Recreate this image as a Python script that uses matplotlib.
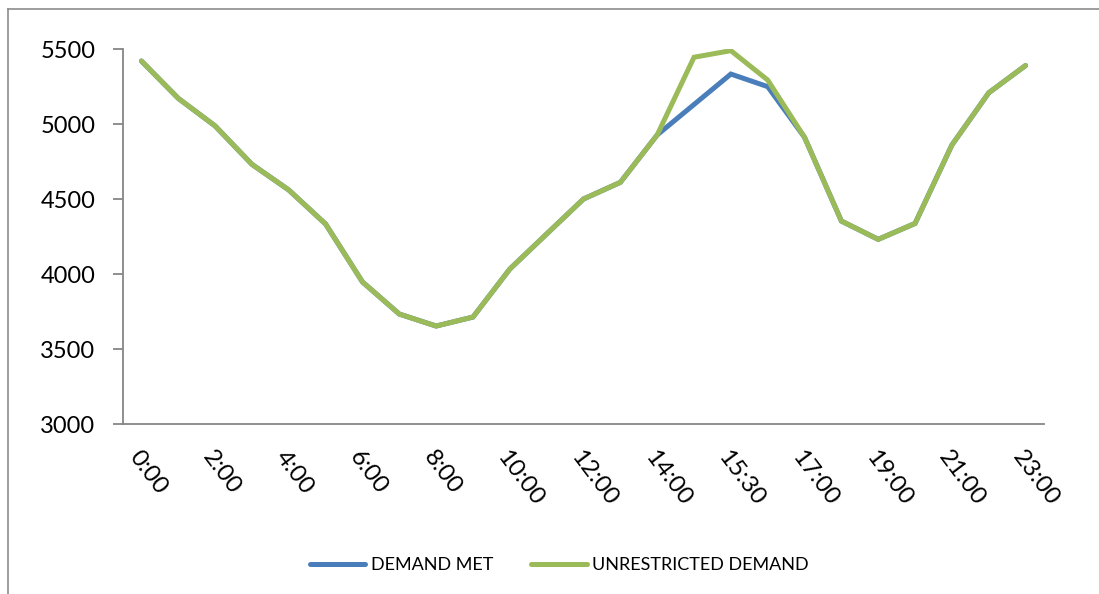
import matplotlib
matplotlib.use("Agg")
import matplotlib.pyplot as plt
from matplotlib.lines import Line2D
from matplotlib.transforms import ScaledTranslation

# Hourly load profile (MW), with a half-hour reading at the afternoon peak
times = ["0:00", "1:00", "2:00", "3:00", "4:00", "5:00", "6:00", "7:00", "8:00",
         "9:00", "10:00", "11:00", "12:00", "13:00", "14:00", "15:00", "15:30",
         "16:00", "17:00", "18:00", "19:00", "20:00", "21:00", "22:00", "23:00"]
demand_met = [5422, 5173, 4989, 4733, 4562, 4335, 3949, 3735, 3655,
              3715, 4035, 4269, 4502, 4613, 4929, 5132, 5335,
              5251, 4913, 4355, 4233, 4339, 4862, 5210, 5392]
unrestricted = [5422, 5173, 4989, 4733, 4562, 4335, 3949, 3735, 3655,
                3715, 4035, 4269, 4502, 4613, 4929, 5447, 5491,
                5295, 4913, 4355, 4233, 4339, 4862, 5210, 5392]
y_ticks = [3000, 3500, 4000, 4500, 5000, 5500]

BLUE = "#4A7EBB"
GREEN = "#9BBB59"
GRID = "#868686"
FONT = ["Lato", "DejaVu Sans"]

fig = plt.figure(figsize=(10.99, 5.94), dpi=100)
ax = fig.add_axes([123 / 1099, 1 - 424.3 / 594, (1044 - 123) / 1099, (424.3 - 49.3) / 594])

x = list(range(len(times)))
ax.plot(x, demand_met, color=BLUE, lw=3.6, solid_joinstyle="miter", solid_capstyle="round",
        label="DEMAND MET", zorder=2)
ax.plot(x, unrestricted, color=GREEN, lw=3.6, solid_joinstyle="miter", solid_capstyle="round",
        label="UNRESTRICTED DEMAND", zorder=3)

ax.set_xlim(-0.5, len(times) - 0.5)
ax.set_ylim(y_ticks[0], y_ticks[-1])
ax.set_yticks(y_ticks)
ax.set_yticklabels([str(v) for v in y_ticks], fontsize=17, family=FONT)
ax.set_xticks(x[::2])
ax.set_xticklabels(times[::2], fontsize=17.5, family=FONT, rotation=-53,
                   ha="left", va="top", rotation_mode="anchor")
shift = ScaledTranslation(-10 / 100, 0, fig.dpi_scale_trans)
for lbl in ax.get_xticklabels():
    lbl.set_transform(lbl.get_transform() + shift)

for side in ("top", "right"):
    ax.spines[side].set_visible(False)
for side in ("left", "bottom"):
    ax.spines[side].set_color(GRID)
    ax.spines[side].set_linewidth(1.3)
ax.tick_params(axis="y", length=7, width=1.3, color=GRID, pad=13)
ax.tick_params(axis="x", length=0, pad=16)

# chart-area frame
fig.add_artist(Line2D([8 / 1099, 8 / 1099], [0, 1 - 9 / 594], color="#8c8c8c", lw=1.2,
                      transform=fig.transFigure))
fig.add_artist(Line2D([8 / 1099, 1], [1 - 9 / 594, 1 - 9 / 594], color="#8c8c8c", lw=1.2,
                      transform=fig.transFigure))

fig.legend(loc="center", bbox_to_anchor=(559 / 1099, 1 - 565 / 594), ncol=2, frameon=False,
           prop={"family": FONT, "size": 13}, handlelength=3.1, handletextpad=0.28,
           columnspacing=2.1)

fig.savefig("out.png", dpi=100, facecolor="white")
